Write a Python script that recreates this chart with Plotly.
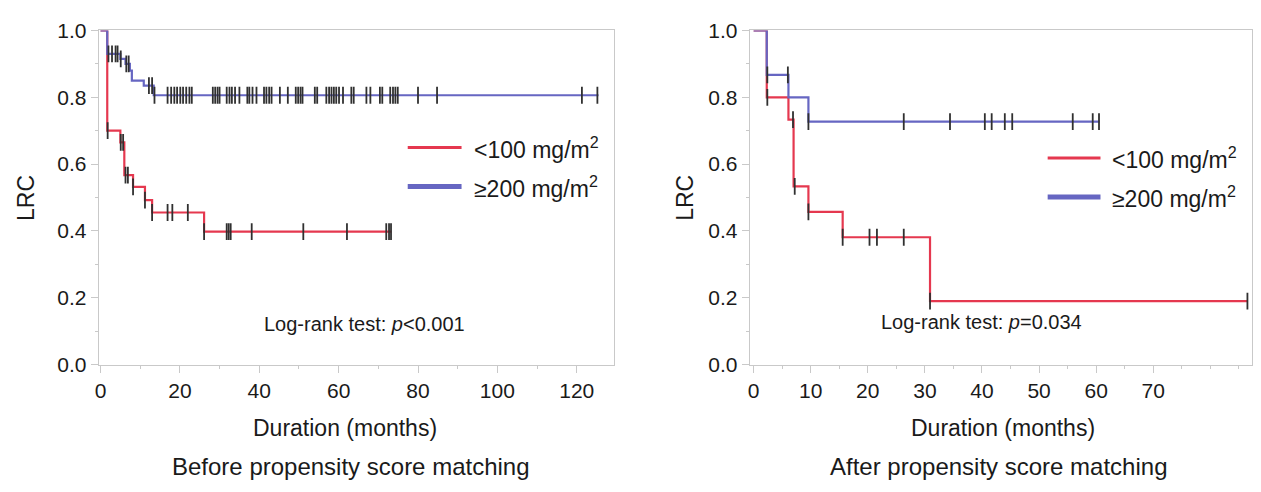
import plotly.graph_objects as go
import bisect

W, H = 1261, 492          # browser window
OFF = 8                   # default body margin of the page
FW, FH = W - 2 * OFF, H - 2 * OFF

# ---------------- DATA ----------------
# Left panel: before propensity score matching
left_red_times = [0, 1.7, 5.0, 6.0, 8.2, 11.2, 13.0, 26.1]
left_red_surv = [1.0, 0.70, 0.665, 0.567, 0.532, 0.492, 0.455, 0.398]
left_red_end = 73.3
left_red_censor = [1.8, 5.1, 5.7, 6.3, 6.9, 8.2, 11.2, 13.0, 16.9, 18.1, 22.0,
                   26.1, 31.8, 32.3, 32.8, 38.1, 51.1, 62.1, 72.0, 72.7, 73.2]

left_blue_times = [0, 1.7, 5.0, 6.3, 7.4, 7.9, 10.9, 13.4]
left_blue_surv = [1.0, 0.93, 0.915, 0.90, 0.88, 0.85, 0.835, 0.806]
left_blue_end = 125.5
left_blue_censor = [2.0, 2.9, 3.8, 4.3, 5.1, 6.5, 7.1, 12.2, 13.0, 13.6,
                    16.9, 17.8, 18.6, 19.3, 20.1, 20.8, 21.6, 22.4, 23.0,
                    28.3, 28.9, 29.5, 30.0, 31.8, 32.5, 33.1, 33.9, 35.0,
                    37.0, 37.5, 38.3, 39.3, 41.2, 41.8, 42.5, 43.1, 45.2, 47.2,
                    49.2, 49.8, 50.4, 50.9, 54.0, 54.6, 56.9, 57.6, 58.2, 58.8,
                    59.4, 60.1, 61.1, 63.2, 63.8, 67.0, 68.0, 70.4, 71.0, 73.0,
                    73.7, 74.3, 74.9, 80.0, 84.8, 121.3, 125.2]

# Right panel: after propensity score matching
right_red_times = [0, 2.3, 6.1, 7.0, 9.6, 15.6, 30.9]
right_red_surv = [1.0, 0.80, 0.733, 0.533, 0.457, 0.381, 0.19]
right_red_end = 86.6
right_red_censor = [2.4, 6.9, 7.2, 9.6, 15.6, 20.3, 21.6, 26.3, 30.9, 86.5]

right_blue_times = [0, 2.3, 6.1, 9.6]
right_blue_surv = [1.0, 0.867, 0.80, 0.727]
right_blue_end = 60.6
right_blue_censor = [2.4, 6.0, 9.6, 26.3, 34.4, 40.5, 41.7, 44.0, 45.3,
                     55.9, 59.4, 60.5]

y_ticks = [0.0, 0.2, 0.4, 0.6, 0.8, 1.0]
y_ticktext = ["0.0", "0.2", "0.4", "0.6", "0.8", "1.0"]
left_x_ticks = [0, 20, 40, 60, 80, 100, 120]
right_x_ticks = [0, 10, 20, 30, 40, 50, 60, 70]

legend_labels = ["<100 mg/m<sup>2</sup>", "\u2265200 mg/m<sup>2</sup>"]
pvalue_left = "Log-rank test: <i>p</i><0.001"
pvalue_right = "Log-rank test: <i>p</i>=0.034"
subtitle_left = "Before propensity score matching"
subtitle_right = "After propensity score matching"

# ---------------- STYLE ----------------
RED = "#e5384f"
BLUE = "#6666c2"
MARK = "#303030"
AXC = "#c9c9c9"
FONT = "Liberation Sans, Arial, sans-serif"
TXT = "#1a1a1a"


def px(x):
    return (x - OFF) / FW


def py(y):
    return 1 - (y - OFF) / FH


def surv_at(times, surv, t):
    i = bisect.bisect_right(times, t) - 1
    return surv[max(i, 0)]


fig = go.Figure()


def add_panel(times, surv, end, censor, color, width, xa, ya):
    fig.add_trace(go.Scatter(
        x=times + [end], y=surv + [surv[-1]], mode="lines",
        line=dict(color=color, width=width, shape="hv"),
        xaxis=xa, yaxis=ya, showlegend=False, hoverinfo="skip"))
    fig.add_trace(go.Scatter(
        x=censor, y=[surv_at(times, surv, t) for t in censor], mode="markers",
        marker=dict(symbol="line-ns-open", size=12, color=MARK,
                    line=dict(color=MARK, width=1.8)),
        xaxis=xa, yaxis=ya, showlegend=False, hoverinfo="skip"))


add_panel(left_red_times, left_red_surv, left_red_end, left_red_censor, RED, 2.2, "x", "y")
add_panel(left_blue_times, left_blue_surv, left_blue_end, left_blue_censor, BLUE, 2.2, "x", "y")
add_panel(right_red_times, right_red_surv, right_red_end, right_red_censor, RED, 2.2, "x2", "y2")
add_panel(right_blue_times, right_blue_surv, right_blue_end, right_blue_censor, BLUE, 2.2, "x2", "y2")

ydom = [py(370), py(19)]
axis_common = dict(showgrid=False, zeroline=False, showline=True, linecolor=AXC,
                   linewidth=1, mirror=True, ticks="outside", tickcolor=AXC,
                   ticklen=7, tickwidth=1, ticklabeloverflow="allow",
                   tickfont=dict(family=FONT, size=21, color=TXT))

fig.update_layout(
    width=FW, height=FH, margin=dict(l=0, r=0, t=0, b=0),
    paper_bgcolor="white", plot_bgcolor="white",
    xaxis=dict(domain=[px(95), px(612)], range=[-0.45, 129.4], anchor="y",
               tickvals=left_x_ticks,
               minor=dict(dtick=10, ticklen=3, tickcolor=AXC, ticks="outside"),
               **axis_common),
    yaxis=dict(domain=ydom, range=[0, 1.0], anchor="x", tickvals=y_ticks,
               ticktext=y_ticktext,
               minor=dict(dtick=0.1, ticklen=3, tickcolor=AXC, ticks="outside"),
               **axis_common),
    xaxis2=dict(domain=[px(748), px(1252)], range=[-0.7, 87.3], anchor="y2",
                tickvals=right_x_ticks,
                minor=dict(dtick=5, ticklen=3, tickcolor=AXC, ticks="outside"),
                **axis_common),
    yaxis2=dict(domain=ydom, range=[0, 1.0], anchor="x2", tickvals=y_ticks,
                ticktext=y_ticktext,
                minor=dict(dtick=0.1, ticklen=3, tickcolor=AXC, ticks="outside"),
                **axis_common),
)


def text(x, y, s, size=23, xanchor="center", angle=0):
    fig.add_annotation(x=px(x), y=py(y), xref="paper", yref="paper", text=s,
                       showarrow=False, xanchor=xanchor, yanchor="middle",
                       textangle=angle,
                       font=dict(family=FONT, size=size, color=TXT))


# axis titles and notes
text(22, 195, "LRC", angle=-90)
text(683, 195, "LRC", angle=-90)
text(342, 437, "Duration (months)")
text(1002, 437, "Duration (months)")
text(348, 477, subtitle_left, size=24)
text(998, 477, subtitle_right, size=24)
text(362, 327, pvalue_left, size=20)
text(981, 325, pvalue_right, size=20)


# legends
def legend(x0, x1, ytop, ybot, tx):
    fig.add_shape(type="line", xref="paper", yref="paper", x0=px(x0), x1=px(x1),
                  y0=py(ytop), y1=py(ytop), line=dict(color=RED, width=3))
    fig.add_shape(type="line", xref="paper", yref="paper", x0=px(x0), x1=px(x1),
                  y0=py(ybot), y1=py(ybot), line=dict(color=BLUE, width=5))
    text(tx, ytop, legend_labels[0], size=23, xanchor="left")
    text(tx, ybot, legend_labels[1], size=23, xanchor="left")


legend(405, 459, 142, 183, 469)
legend(1047, 1100, 153, 194, 1110)

fig.write_html("out.html")
